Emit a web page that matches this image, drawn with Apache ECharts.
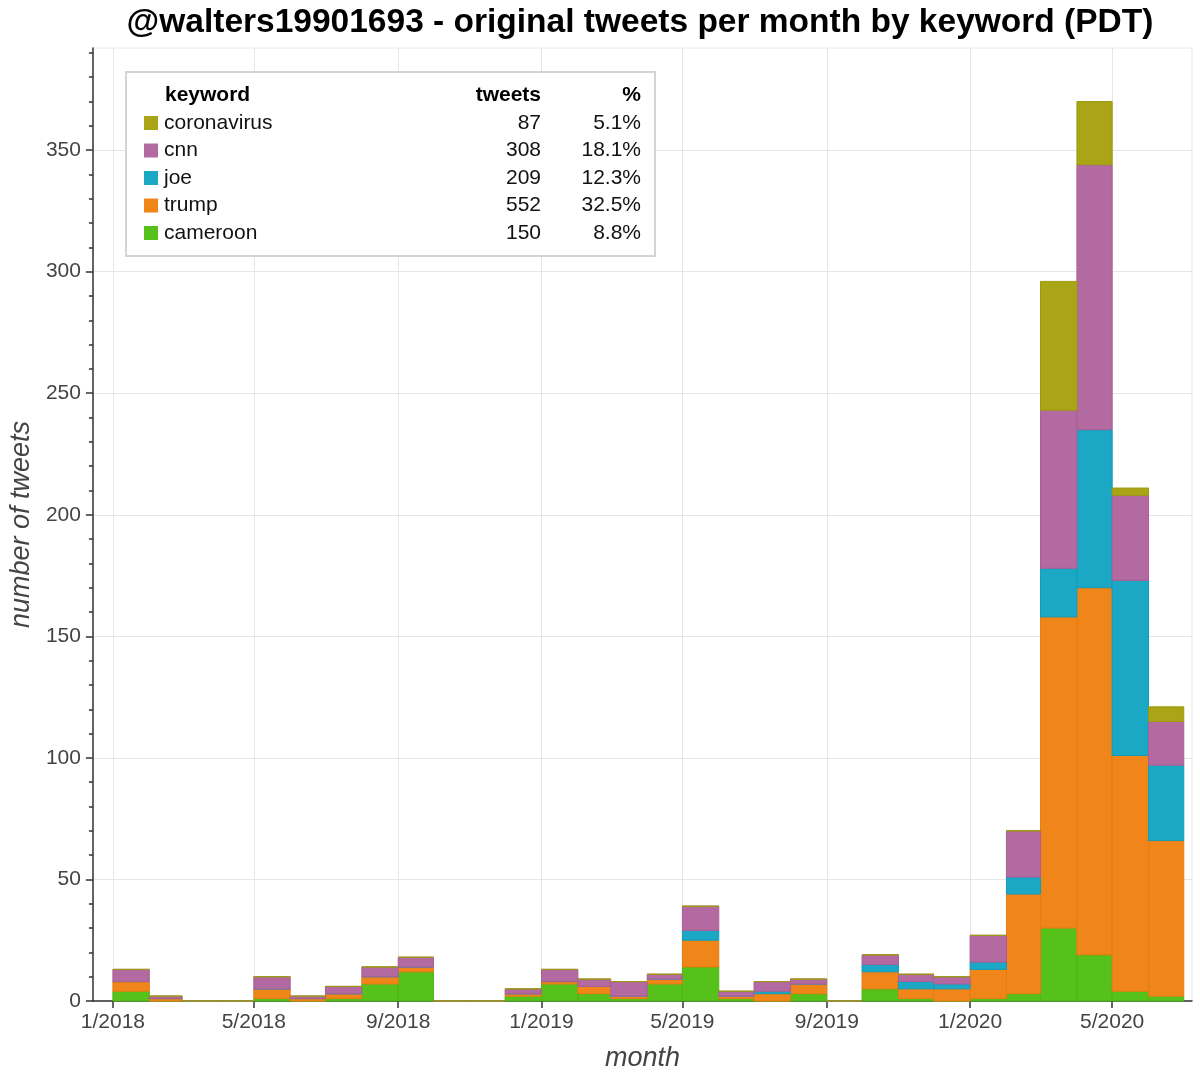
<!DOCTYPE html>
<html><head><meta charset="utf-8">
<script src="https://cdn.jsdelivr.net/npm/echarts@6/dist/echarts.min.js"></script>
<style>html,body{margin:0;padding:0;background:#fff}#c{width:1200px;height:1081px}</style>
</head><body><div id="c"></div><script>
// ---- data ----
const months = ['2018-01','2018-02','2018-03','2018-04','2018-05','2018-06','2018-07','2018-08','2018-09','2018-10','2018-11','2018-12',
                '2019-01','2019-02','2019-03','2019-04','2019-05','2019-06','2019-07','2019-08','2019-09','2019-10','2019-11','2019-12',
                '2020-01','2020-02','2020-03','2020-04','2020-05','2020-06'];
const cameroon    = [4,0,0,0,1,0,1,7,12,0,0,2, 7,3,1,7,14,1,0,3,0,5,1,0, 1,3,30,19,4,2];
const trump       = [4,1,0,0,4,1,2,3,2,0,0,1, 1,3,1,2,11,1,3,4,0,7,4,5, 12,41,128,151,97,64];
const joe         = [0,0,0,0,0,0,0,0,0,0,0,0, 0,0,0,0,4,0,1,0,0,3,3,2, 3,7,20,65,72,31];
const cnn         = [5,1,0,0,5,1,3,4,4,0,0,2, 5,3,6,2,10,2,4,2,0,4,3,3, 11,19,65,109,35,18];
const coronavirus = [0,0,0,0,0,0,0,0,0,0,0,0, 0,0,0,0,0,0,0,0,0,0,0,0, 0,0,53,26,3,6];
const xTickLabels = ['1/2018','5/2018','9/2018','1/2019','5/2019','9/2019','1/2020','5/2020'];
const yTickValues = [0,50,100,150,200,250,300,350];
const legendKeywords = ['coronavirus','cnn','joe','trump','cameroon'];
const legendTweets = ['87','308','209','552','150'];
const legendPct = ['5.1%','18.1%','12.3%','32.5%','8.8%'];

// ---- styles ----
const colors = {coronavirus:'#aaa516', cnn:'#b36aa0', joe:'#1ba8c5', trump:'#f08519', cameroon:'#56c11a'};
const strokes = {coronavirus:'#9c9a10', cnn:'#a85f95', joe:'#159bb8', trump:'#e57d12', cameroon:'#4db513'};
const FONT = '"Liberation Sans", Arial, Helvetica, sans-serif';

const monthStart = s => { const [y,m] = s.split('-').map(Number); return Date.UTC(y, m-1, 1); };
const monthEnd   = s => { const [y,m] = s.split('-').map(Number); return Date.UTC(y, m, 1); };
const xTickValues = xTickLabels.map(l => { const [m,y] = l.split('/').map(Number); return Date.UTC(y, m-1, 1); });

const stackOrder = [['cameroon',cameroon],['trump',trump],['joe',joe],['cnn',cnn],['coronavirus',coronavirus]];
const base = months.map(() => 0);
const series = stackOrder.map(([name, arr]) => {
  const data = months.map((m, i) => {
    const b = base[i]; base[i] += arr[i];
    return [monthStart(m), monthEnd(m), b, b + arr[i]];
  });
  return {
    type: 'custom', name, data,
    encode: {x: [0,1], y: [2,3]},
    renderItem: (params, api) => {
      const p0 = api.coord([api.value(0), api.value(2)]);
      const p1 = api.coord([api.value(1), api.value(3)]);
      return {type: 'rect',
        shape: {x: p0[0], y: p1[1], width: p1[0]-p0[0], height: p0[1]-p1[1]},
        style: {fill: colors[name], stroke: strokes[name], lineWidth: 1}};
    }
  };
});

// legend graphics
const LZ = 100;
const legendChildren = [
  {type:'rect', z:LZ, shape:{x:126, y:72, width:529, height:184}, style:{fill:'#fff', stroke:'#d4d4d4', lineWidth:2}},
  {type:'text', z:LZ+1, x:165, y:95, style:{text:'keyword', font:'bold 21px '+FONT, fill:'#000', textVerticalAlign:'middle'}},
  {type:'text', z:LZ+1, x:541, y:95, style:{text:'tweets', font:'bold 21px '+FONT, fill:'#000', textAlign:'right', textVerticalAlign:'middle'}},
  {type:'text', z:LZ+1, x:641, y:95, style:{text:'%', font:'bold 21px '+FONT, fill:'#000', textAlign:'right', textVerticalAlign:'middle'}}
];
legendKeywords.forEach((k, i) => {
  const cy = 123 + i * 27.5;
  legendChildren.push({type:'rect', z:LZ+1, shape:{x:144, y:cy-7, width:14, height:14}, style:{fill:colors[k]}});
  legendChildren.push({type:'text', z:LZ+1, x:164, y:cy, style:{text:k, font:'21px '+FONT, fill:'#111', textVerticalAlign:'middle'}});
  legendChildren.push({type:'text', z:LZ+1, x:541, y:cy, style:{text:legendTweets[i], font:'21px '+FONT, fill:'#111', textAlign:'right', textVerticalAlign:'middle'}});
  legendChildren.push({type:'text', z:LZ+1, x:641, y:cy, style:{text:legendPct[i], font:'21px '+FONT, fill:'#111', textAlign:'right', textVerticalAlign:'middle'}});
});

const chart = echarts.init(document.getElementById('c'), null, {renderer: 'canvas'});
chart.setOption({
  animation: false,
  backgroundColor: '#fff',
  textStyle: {fontFamily: FONT},
  grid: {left: 92, right: 8, top: 48, bottom: 80, show: true, borderColor: '#e6e6e6', borderWidth: 1, backgroundColor: 'transparent'},
  xAxis: {
    type: 'value',
    min: Date.UTC(2017, 11, 15),
    max: Date.UTC(2020, 6, 8),
    name: 'month', nameLocation: 'middle', nameGap: 44,
    nameTextStyle: {fontSize: 27, fontStyle: 'italic', color: '#444', fontFamily: FONT},
    axisLine: {show: true, lineStyle: {color: '#333', width: 1.5}},
    axisTick: {show: true, length: 7, lineStyle: {color: '#333', width: 1.5}, customValues: xTickValues},
    axisLabel: {customValues: xTickValues, fontSize: 21, color: '#444', margin: 11, fontFamily: FONT,
      formatter: v => { const i = xTickValues.indexOf(v); return i >= 0 ? xTickLabels[i] : ''; }},
    splitLine: {show: true, lineStyle: {color: '#e6e6e6', width: 1}}
  },
  yAxis: [{
    type: 'value', min: 0, max: 392,
    name: 'number of tweets', nameLocation: 'middle', nameGap: 53, nameRotate: 90,
    nameTextStyle: {fontSize: 27, fontStyle: 'italic', color: '#444', fontFamily: FONT},
    axisLine: {show: true, lineStyle: {color: '#333', width: 1.5}},
    axisTick: {show: true, length: 7, lineStyle: {color: '#333', width: 1.5}, customValues: yTickValues},
    axisLabel: {customValues: yTickValues, fontSize: 21, color: '#444', margin: 12, fontFamily: FONT},
    splitLine: {show: true, lineStyle: {color: '#e6e6e6', width: 1}}
  }, {
    type: 'value', min: 0, max: 392, position: 'left',
    axisLine: {show: false},
    axisTick: {show: true, length: 4, lineStyle: {color: '#333', width: 1.5},
      customValues: [10,20,30,40,60,70,80,90,110,120,130,140,160,170,180,190,210,220,230,240,260,270,280,290,310,320,330,340,360,370,380,390]},
    axisLabel: {show: false},
    splitLine: {show: false}
  }],
  series,
  graphic: [
    {type:'text', z:LZ, x:640, y:23, style:{text:'@walters19901693 - original tweets per month by keyword (PDT)', font:'bold 33.5px '+FONT, fill:'#000', textAlign:'center', textVerticalAlign:'middle'}},
    {type:'group', z:LZ, children: legendChildren}
  ]
});
</script></body></html>
